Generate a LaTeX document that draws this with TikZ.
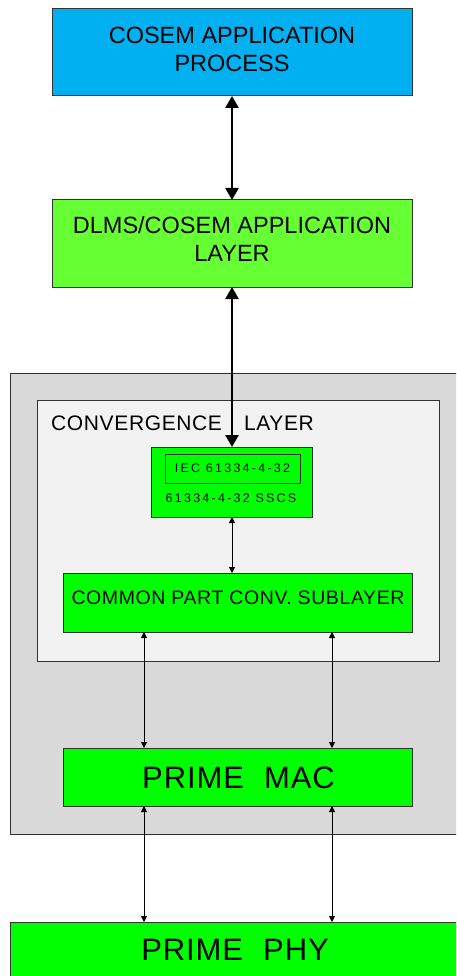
\documentclass[tikz,border=0pt]{standalone}
\usepackage{fontspec}
\setmainfont{Liberation Sans}
\newfontfamily\spacedfont[LetterSpace=18]{Liberation Sans}
\newfontfamily\widefont[LetterSpace=3]{Liberation Sans}
\usetikzlibrary{arrows.meta,calc}

\definecolor{cosemblue}{HTML}{00B0F0}
\definecolor{lightgreen}{HTML}{66FF33}
\definecolor{puregreen}{HTML}{00FF00}
\definecolor{outergrey}{HTML}{D9D9D9}
\definecolor{innergrey}{HTML}{F2F2F2}
\definecolor{edge}{HTML}{333333}

\begin{document}
\begin{tikzpicture}[x=1pt,y=-1pt,
  box/.style={draw=edge, line width=1pt, anchor=north west, inner sep=0pt, outer sep=0pt},
  lbl/.style={inner sep=0pt, align=center, text=black},
  bigarrow/.style={line width=2.6pt, {Triangle[width=13pt,length=12pt]}-{Triangle[width=13pt,length=12pt]}},
  smallarrow/.style={line width=0.9pt, {Triangle[width=6pt,length=6pt]}-{Triangle[width=6pt,length=6pt]}},
]
\useasboundingbox (0,0) rectangle (456,976);
\clip (0,0) rectangle (456,976);

% application process and application layer
\node[box, fill=cosemblue, minimum width=360pt, minimum height=87pt] (cap) at (52,9) {};
\node[lbl, font=\fontsize{23.5}{28}\selectfont] (captext) at ($(cap.center)+(0,-3.5)$) {COSEM APPLICATION\\PROCESS};

\node[box, fill=lightgreen, minimum width=360pt, minimum height=87pt] (dlms) at (52,200) {};
\node[lbl, font=\fontsize{23.5}{28}\selectfont] (dlmstext) at ($(dlms.center)+(0,-4.5)$) {DLMS/COSEM APPLICATION\\LAYER};

% grey frame holding the convergence layer and the MAC
\node[box, fill=outergrey, minimum width=460pt, minimum height=461pt] (frame) at (10,373) {};
\node[box, fill=innergrey, minimum width=402pt, minimum height=261pt] (conv) at (37,400) {};
\node[lbl, anchor=west, font=\widefont\fontsize{21}{24}\selectfont] (convtext) at (51,423) {CONVERGENCE\hspace{22pt}LAYER};

% SSCS block
\node[box, fill=puregreen, minimum width=161pt, minimum height=70pt] (iec) at (151,447) {};
\node[box, minimum width=135pt, minimum height=29pt] (iecinner) at (165,454) {};
\node[lbl, font=\spacedfont\fontsize{12.5}{14}\selectfont] (iectext) at (iecinner.center) {IEC 61334-4-32};
\node[lbl, font=\spacedfont\fontsize{12.5}{14}\selectfont] (sscstext) at (231,498) {61334-4-32 SSCS};

% common part convergence sublayer
\node[box, fill=puregreen, minimum width=349pt, minimum height=59pt] (cpcs) at (63,573) {};
\node[lbl, font=\widefont\fontsize{19.5}{22}\selectfont] (cpcstext) at (238,597.5) {COMMON PART CONV. SUBLAYER};

% MAC and PHY
\node[box, fill=puregreen, minimum width=349pt, minimum height=58pt] (mac) at (63,748) {};
\node[lbl, font=\widefont\fontsize{31}{34}\selectfont] (mactext) at (238.5,777.5) {PRIME\hspace{20pt}MAC};

\node[box, fill=puregreen, minimum width=460pt, minimum height=70pt] (phy) at (10,922) {};
\node[lbl, font=\widefont\fontsize{31}{34}\selectfont] (phytext) at (235,950) {PRIME\hspace{20pt}PHY};

% connectors
\coordinate (la) at (144,0);
\coordinate (ra) at (332,0);
\draw[bigarrow] (cap.south) -- (dlms.north);
\draw[bigarrow] (dlms.south) -- (dlms.south |- iec.north);
\draw[smallarrow] (iec.south -| dlms.south) -- (cpcs.north -| dlms.south);
\draw[smallarrow] (cpcs.south -| la) -- (mac.north -| la);
\draw[smallarrow] (cpcs.south -| ra) -- (mac.north -| ra);
\draw[smallarrow] (mac.south -| la) -- (phy.north -| la);
\draw[smallarrow] (mac.south -| ra) -- (phy.north -| ra);
\end{tikzpicture}
\end{document}
